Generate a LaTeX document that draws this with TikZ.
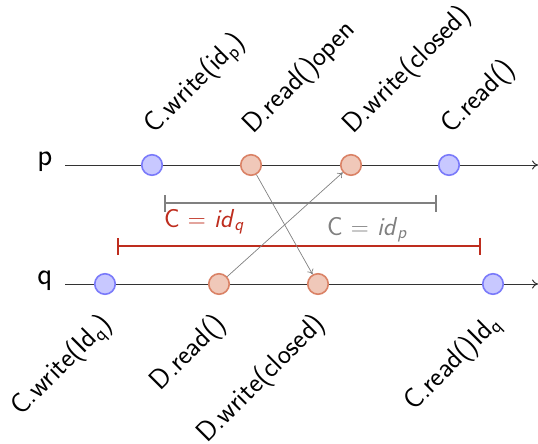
\documentclass[tikz,border=0pt]{standalone}
\usepackage{tikz}
\usetikzlibrary{arrows.meta}
\definecolor{bfill}{RGB}{200,200,255}
\definecolor{bdraw}{RGB}{122,122,250}
\definecolor{ofill}{RGB}{240,200,185}
\definecolor{odraw}{RGB}{218,130,102}
\definecolor{ired}{RGB}{190,45,30}
\definecolor{igray}{RGB}{128,128,128}
\begin{document}
\begin{tikzpicture}[x=1pt,y=-1pt,
  font=\sffamily\fontsize{26}{30}\selectfont,
  tl/.style={draw=black!80, line width=1pt, -{To[length=6pt,width=9pt]}},
  ev/.style={circle, minimum size=20.5pt, inner sep=0pt, line width=1.6pt},
  bev/.style={ev, fill=bfill, draw=bdraw},
  oev/.style={ev, fill=ofill, draw=odraw},
  lab/.style={rotate=45, inner sep=0pt, font=\sffamily\fontsize{28}{30}\selectfont},
  toplab/.style={lab, anchor=south west},
  botlab/.style={lab, anchor=north east},
  msg/.style={draw=igray, line width=0.7pt, -{To[length=5pt,width=7pt]}},
  proc/.style={font=\sffamily\fontsize{31}{34}\selectfont},
  ival/.style={line width=2.4pt, {Bar[width=17pt]}-{Bar[width=17pt]}}
]
\useasboundingbox (0,0) rectangle (538,444);
% process lines
\node[proc] (plab) at (45,162) {p};
\node[proc] (qlab) at (45,281) {q};
\coordinate (ps) at (65,165);
\coordinate (pe) at (538,165);
\coordinate (qs) at (65,284);
\coordinate (qe) at (538,284);
\draw[tl] (ps) -- (pe);
\draw[tl] (qs) -- (qe);
% intervals
\coordinate (g1) at (163.5,203);
\coordinate (g2) at (437,203);
\coordinate (r1) at (117,246);
\coordinate (r2) at (481,246);
\draw[ival, igray] (g1) -- (g2);
\draw[ival, ired] (r1) -- (r2);
\node[ired, anchor=base west, inner sep=0pt] (cq) at (164,227) {C $=$ \textit{id}\textsubscript{\textit{q}}};
\node[igray, anchor=base west, inner sep=0pt] (cp) at (327,235) {C $=$ \textit{id}\textsubscript{\textit{p}}};
% events
\node[bev] (p1) at (152,165) {};
\node[oev] (p2) at (251,165) {};
\node[oev] (p3) at (351,165) {};
\node[bev] (p4) at (449,165) {};
\node[bev] (q1) at (105,284) {};
\node[oev] (q2) at (219,284) {};
\node[oev] (q3) at (318,284) {};
\node[bev] (q4) at (493,284) {};
% messages
\draw[msg] (p2) -- (q3);
\draw[msg] (q2) -- (p3);
% labels
\node[toplab] (lp1) at ([xshift=8pt,yshift=25pt]p1.center) {C.write(id\textsubscript{p})};
\node[toplab] (lp2) at ([xshift=7pt,yshift=25pt]p2.center) {D.read()open};
\node[toplab] (lp3) at ([xshift=7pt,yshift=25pt]p3.center) {D.write(closed)};
\node[toplab] (lp4) at ([xshift=7pt,yshift=25pt]p4.center) {C.read()};
\node[botlab] (lq1) at ([xshift=-7pt,yshift=-26pt]q1.center) {C.write(Id\textsubscript{q})};
\node[botlab] (lq2) at ([xshift=-7pt,yshift=-26pt]q2.center) {D.read()};
\node[botlab] (lq3) at ([xshift=-7pt,yshift=-26pt]q3.center) {D.write(closed)};
\node[botlab] (lq4) at ([xshift=-7pt,yshift=-26pt]q4.center) {C.read()Id\textsubscript{q}};
\end{tikzpicture}
\end{document}
